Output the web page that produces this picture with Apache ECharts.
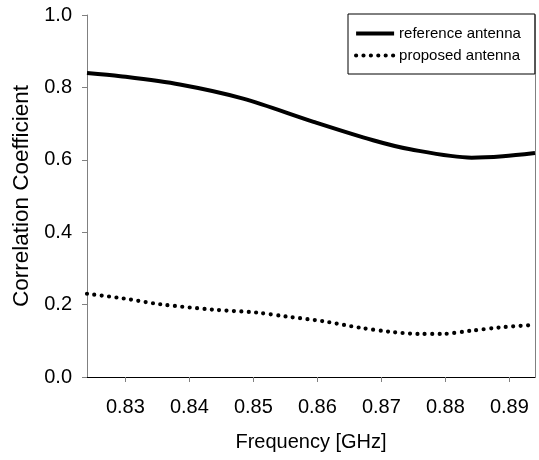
<!DOCTYPE html>
<html>
<head>
<meta charset="utf-8">
<script src="https://cdn.jsdelivr.net/npm/echarts@6/dist/echarts.min.js"></script>
<style>
html, body { margin: 0; padding: 0; background: #fff; }
#chart { width: 539px; height: 460px; }
</style>
</head>
<body>
<div id="chart"></div>
<script>
/*
 * correlation coefficient vs frequency
 */
var refFreq = [0.824, 0.8292, 0.8385, 0.8484, 0.8594, 0.8687, 0.8745, 0.8841, 0.889, 0.894];
var refValue = [0.840, 0.831, 0.808, 0.769, 0.705, 0.654, 0.629, 0.606, 0.610, 0.619];

var propFreq = [0.824, 0.8297, 0.8354, 0.8437, 0.8505, 0.8552, 0.8609, 0.8667, 0.8713, 0.876, 0.8794, 0.8841, 0.8885, 0.8932];
var propValue = [0.230, 0.217, 0.201, 0.186, 0.178, 0.167, 0.154, 0.136, 0.125, 0.119, 0.119, 0.128, 0.137, 0.143];

var xTicks = [0.83, 0.84, 0.85, 0.86, 0.87, 0.88, 0.89];
var seriesNames = ['reference antenna', 'proposed antenna'];

var font = 'Liberation Sans, Arial, sans-serif';
// 线型
var solidStyle = { color: '#000', width: 4 };
var dotStyle = { color: '#000', width: 4.2, type: [0, 7.4], cap: 'round' };

function pairs(xs, ys) {
	var out = [];
	for (var i = 0; i < xs.length; i++) {
		out.push([xs[i], ys[i]]);
	}
	return out;
}

var myChart = echarts.init(document.getElementById('chart'), null, { renderer: 'canvas' });

var option = {
	animation: false,
	backgroundColor: '#fff',
	textStyle: { fontFamily: font, color: '#000' },
	grid: { left: 87, top: 15, right: 4, bottom: 83 },
	legend: {
		orient: 'vertical',
		left: 348,
		top: 14,
		padding: [12, 14, 11, 6],
		itemGap: 7,
		itemWidth: 38,
		itemHeight: 14,
		borderColor: '#000',
		borderWidth: 1,
		backgroundColor: '#fff',
		textStyle: { fontSize: 15, fontFamily: font, color: '#000', lineHeight: 15 },
		data: [
			{ name: seriesNames[0], itemStyle: { opacity: 0 }, lineStyle: solidStyle },
			{ name: seriesNames[1], itemStyle: { opacity: 0 }, lineStyle: dotStyle }
		]
	},
	xAxis: {
		type: 'value',
		min: 0.824,
		max: 0.894,
		name: 'Frequency [GHz]',
		nameLocation: 'middle',
		nameGap: 55,
		nameTextStyle: { fontSize: 20, fontFamily: font, color: '#000' },
		axisLine: { lineStyle: { color: '#000', width: 1 } },
		axisTick: { show: true, length: 5, customValues: xTicks, lineStyle: { color: '#808080' } },
		axisLabel: {
			customValues: xTicks,
			fontSize: 20,
			margin: 20,
			color: '#000',
			formatter: function (v) { return v.toFixed(2); }
		},
		splitLine: { show: false }
	},
	yAxis: [{
		type: 'value',
		min: 0,
		max: 1,
		interval: 0.2,
		name: 'Correlation Coefficient',
		nameLocation: 'middle',
		nameGap: 50,
		nameTextStyle: { fontSize: 22.5, fontFamily: font, color: '#000' },
		axisLine: { show: true, lineStyle: { color: '#808080', width: 1 } },
		axisTick: { show: true, length: 5, lineStyle: { color: '#808080' } },
		axisLabel: {
			fontSize: 20,
			margin: 15,
			color: '#000',
			formatter: function (v) { return v.toFixed(1); }
		},
		splitLine: { show: false }
	}, {
		type: 'value',
		position: 'right',
		min: 0,
		max: 1,
		axisLine: { show: true, lineStyle: { color: '#808080', width: 1 } },
		axisTick: { show: false },
		axisLabel: { show: false },
		splitLine: { show: false }
	}],
	series: [{
		name: seriesNames[0],
		type: 'line',
		smooth: 0.3,
		symbol: 'none',
		data: pairs(refFreq, refValue),
		itemStyle: { color: '#000' },
		lineStyle: solidStyle
	}, {
		name: seriesNames[1],
		type: 'line',
		smooth: 0.3,
		symbol: 'none',
		data: pairs(propFreq, propValue),
		itemStyle: { color: '#000' },
		lineStyle: dotStyle
	}]
};
myChart.setOption(option);
</script>
</body>
</html>
